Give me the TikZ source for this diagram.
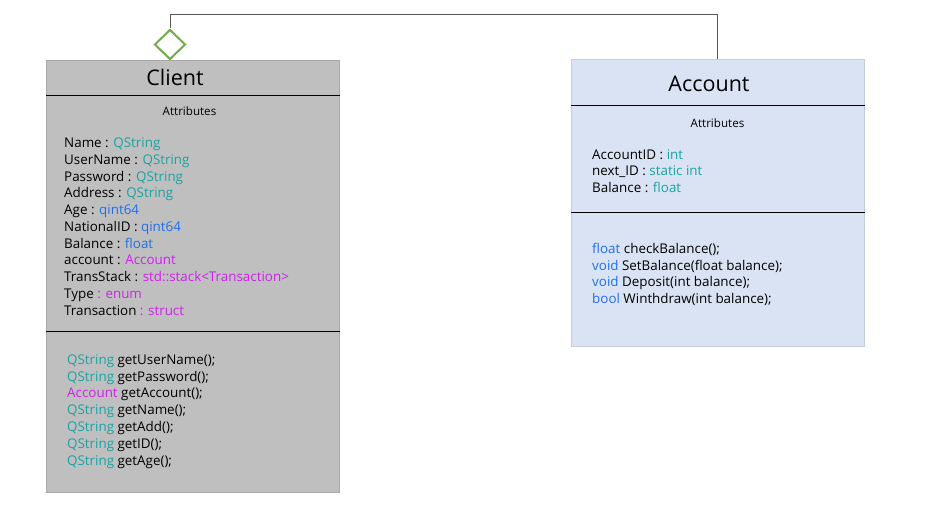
\documentclass[tikz,border=0pt]{standalone}
\usepackage{fontspec}
\setmainfont{Open Sans}
\usetikzlibrary{shapes.geometric}
\definecolor{qteal}{HTML}{1BA3A3}
\definecolor{qblue}{HTML}{1F6FEB}
\definecolor{qmag}{HTML}{D11FF0}
\definecolor{clientgray}{HTML}{BFBFBF}
\definecolor{clientedge}{HTML}{A8A8A8}
\definecolor{accfill}{HTML}{DAE3F3}
\definecolor{accedge}{HTML}{C4CDDC}
\definecolor{aggrgreen}{HTML}{70AD47}
\newcommand{\qstr}{\textcolor{qteal}{QString}}
\newcommand{\qint}{\textcolor{qblue}{qint64}}

\begin{document}
\begin{tikzpicture}[x=1pt, y=-1pt,
	classbox/.style={inner sep=0pt, anchor=north west, line width=0.8pt},
	sepline/.style={line width=1pt, black},
	title/.style={inner sep=0pt, anchor=base, font=\fontsize{21.5}{24}\selectfont},
	attrhead/.style={inner sep=0pt, anchor=base, font=\fontsize{11.6}{13}\selectfont},
	member/.style={inner sep=0pt, anchor=base west, font=\fontsize{13.4}{16}\selectfont},
	aggr/.style={diamond, draw=aggrgreen, line width=2pt, fill=white, inner sep=0pt, minimum width=31pt, minimum height=30pt},
	assoc/.style={draw=black!65, line width=0.9pt}]
	\useasboundingbox (0,0) rectangle (934,505);
	% Class boxes:
	\node[classbox, fill=clientgray, draw=clientedge, minimum width=293pt, minimum height=432pt] (client) at (46,60){};
	\node[classbox, fill=accfill, draw=accedge, minimum width=293pt, minimum height=287pt] (acc) at (571,59){};
	\draw[sepline] (client.west |- 0,96) -- (client.east |- 0,96);
	\draw[sepline] (client.west |- 0,331) -- (client.east |- 0,331);
	\draw[sepline] (acc.west |- 0,106) -- (acc.east |- 0,106);
	\draw[sepline] (acc.west |- 0,213) -- (acc.east |- 0,213);
	\node[title] (clienttitle) at (175,86){Client};
	\node[title] (acctitle) at (709,91.5){Account};
	\node[attrhead] (clienthead) at (189.5,115.7){Attributes};
	\node[attrhead] (acchead) at (717.5,127.3){Attributes};
	% Client attributes and methods:
	\foreach \i/\txt in {0/{Name : \qstr}, 1/{UserName : \qstr}, 2/{Password : \qstr}, 3/{Address : \qstr},
		4/{Age : \qint}, 5/{NationalID : \qint}, 6/{Balance : \textcolor{qblue}{float}},
		7/{account : \textcolor{qmag}{Account}}, 8/{TransStack : \textcolor{qmag}{std::stack<Transaction>}},
		9/{Type \textcolor{qmag}{: enum}}, 10/{Transaction \textcolor{qmag}{: struct}}}
		\node[member] (ca\i) at (64,{147.8+\i*16.72}){\txt};
	\foreach \i/\txt in {0/{\qstr{} getUserName();}, 1/{\qstr{} getPassword();}, 2/{\textcolor{qmag}{Account} getAccount();},
		3/{\qstr{} getName();}, 4/{\qstr{} getAdd();}, 5/{\qstr{} getID();}, 6/{\qstr{} getAge();}}
		\node[member] (cm\i) at (67,{364.3+\i*16.8}){\txt};
	% Account attributes and methods:
	\foreach \i/\txt in {0/{AccountID : \textcolor{qteal}{int}}, 1/{next\_ID : \textcolor{qteal}{static int}},
		2/{Balance : \textcolor{qteal}{float}}}
		\node[member] (aa\i) at (592,{159.3+\i*16.7}){\txt};
	\foreach \i/\txt in {0/{\textcolor{qblue}{float} checkBalance();}, 1/{\textcolor{qblue}{void} SetBalance(float balance);},
		2/{\textcolor{qblue}{void} Deposit(int balance);}, 3/{\textcolor{qblue}{bool} Winthdraw(int balance);}}
		\node[member] (am\i) at (592,{253.3+\i*16.7}){\txt};
	% Aggregation:
	\node[aggr] (agg) at (170,44.5){};
	\draw[assoc] (agg.north) |- ([yshift=45pt]acc.north) -- (acc.north);
\end{tikzpicture}
\end{document}
